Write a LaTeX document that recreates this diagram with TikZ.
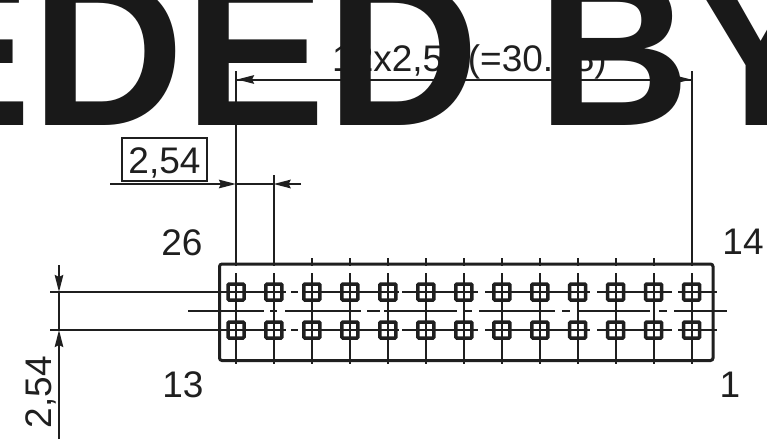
\documentclass[tikz,border=0pt]{standalone}
\usepackage{fontspec}
\setmainfont{Liberation Sans}
\usetikzlibrary{arrows.meta}
\tikzset{
  ink/.style={draw=inkc,line width=2pt},
  dimarrow/.style={ink,-{Stealth[length=17pt,width=8.5pt,inset=2pt]}},
  outlinebox/.style={draw=inkc,line width=3pt,rounded corners=2.5pt},
  pinbox/.style={draw=inkc,line width=3.5pt,minimum size=16pt,inner sep=0pt,rounded corners=1pt},
  lab/.style={text=inkc,inner sep=0pt,font=\fontsize{37}{37}\selectfont},
  stamp/.style={text=stampc,inner sep=0pt,font=\fontsize{212}{212}\selectfont\bfseries}
}
\definecolor{inkc}{gray}{0.12}
\definecolor{stampc}{gray}{0.1}
\begin{document}
\begin{tikzpicture}[x=1pt,y=-1pt]
\useasboundingbox (0,0) rectangle (767,439);
\clip (0,0) rectangle (767,439);
\fill[white] (0,0) rectangle (767,439);

% outline and pins
\node[outlinebox,minimum width=493.5pt,minimum height=96.5pt,inner sep=0pt,anchor=north west] (body) at (218,262.5) {};
\foreach \i in {1,...,13}{
  \pgfmathsetmacro{\px}{236+(\i-1)*37.97}
  \node[pinbox] (t\i) at (\px,292) {};
  \node[pinbox] (b\i) at (\px,330) {};
  \coordinate (vt\i) at (\px,273);
  \coordinate (vb\i) at (\px,364);
  \coordinate (tt\i) at (\px,258);
  \coordinate (tu\i) at (\px,266);
  \draw[ink] (vt\i) -- (vb\i);
  \draw[ink] (tt\i) -- (tu\i);
}
% horizontal centre lines of the two rows
\foreach \yy in {292,330}{
  \foreach \a/\c in {50/286,291/298,303/399,402/478,485/590,597/672,678/717}{
    \draw[ink] (\a,\yy) -- (\c,\yy);
  }
}
% middle centre line
\foreach \a/\c in {188/264,270/277,285/361,367/380,384/457,465/472,479/555,562/570,578/650,659/667,674/727}{
  \draw[ink] (\a,311) -- (\c,311);
}

% extension lines
\coordinate (ea) at (236,71);
\coordinate (eb) at (273.6,175);
\coordinate (ec) at (691.6,71);
\coordinate (ba) at (236,263);
\coordinate (bb) at (273.6,263);
\coordinate (bc) at (691.6,263);
\draw[ink] (ea) -- (ba);
\draw[ink] (eb) -- (bb);
\draw[ink] (ec) -- (bc);

% overall dimension
\coordinate (da) at (237,79.5);
\coordinate (dc) at (691,79.5);
\draw[dimarrow] (dc) -- (da);
\draw[dimarrow] (da) -- (dc);
\node[lab,anchor=base west] (overall) at (332,71) {12x2,54\kern4pt(=30.48)};

% pitch dimension
\coordinate (pa) at (110,184);
\coordinate (pb) at (236,184);
\coordinate (pc) at (301,184);
\coordinate (pd) at (273.6,184);
\draw[dimarrow] (pa) -- (pb);
\draw[dimarrow] (pc) -- (pd);
\draw[ink] (pb) -- (pd);
\node[lab,draw=inkc,line width=1.8pt,text width=85pt,align=center,text height=35pt,text depth=8pt,anchor=base] (pitch) at (164.5,173) {2,54};

% row dimension
\coordinate (ra) at (59,265);
\coordinate (rb) at (59,292);
\coordinate (rc) at (59,439);
\coordinate (rd) at (59,330);
\draw[dimarrow] (ra) -- (rb);
\draw[dimarrow] (rc) -- (rd);
\draw[ink] (rb) -- (rd);
\node[lab,rotate=90,anchor=base] (rowtext) at (51,392) {2,54};

% pin labels
\node[lab,anchor=base] (n26) at (182,255) {26};
\node[lab,anchor=base] (n13) at (183,397) {13};
\node[lab,anchor=base] (n14) at (743,254) {14};
\node[lab,anchor=base] (n1) at (730,397) {1};

% stamp over everything
\node[stamp,anchor=base west] (stamp) at (-110,125.5) {EDED BY};
\end{tikzpicture}
\end{document}
